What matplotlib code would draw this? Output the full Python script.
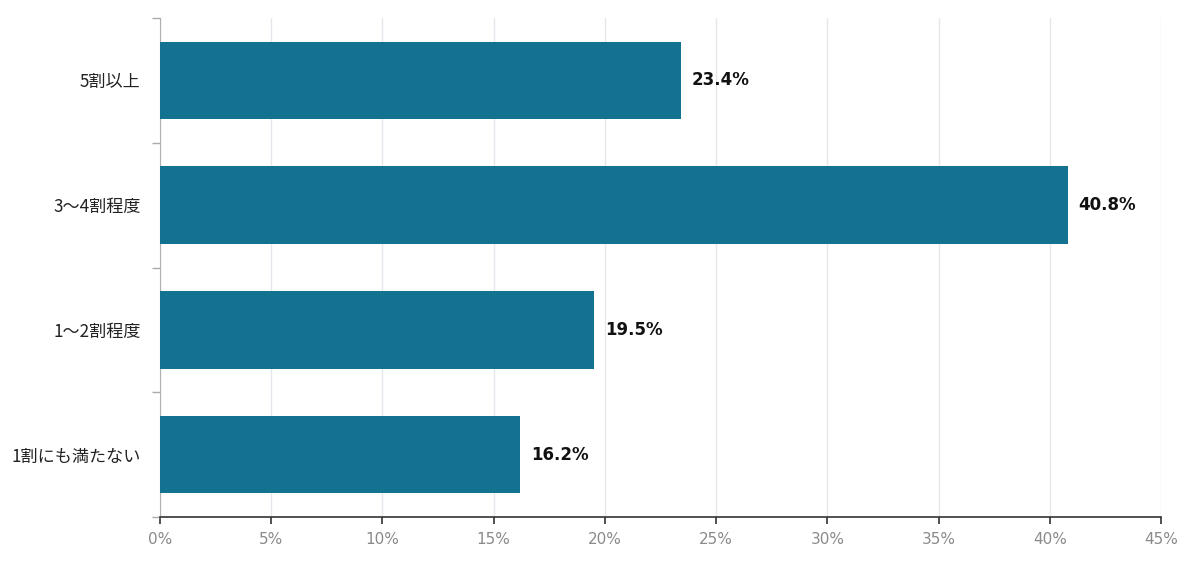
import matplotlib
matplotlib.use("Agg")
import matplotlib.pyplot as plt
import numpy as np
from matplotlib.ticker import FixedLocator

plt.rcParams['font.family'] = ['Noto Sans CJK JP', 'DejaVu Sans']

categories = ["5割以上", "3〜4割程度", "1〜2割程度", "1割にも満たない"]
values = [23.4, 40.8, 19.5, 16.2]
xticks = [0, 5, 10, 15, 20, 25, 30, 35, 40, 45]
xticklabels = [f"{t}%" for t in xticks]

fig = plt.figure(figsize=(12, 5.62), dpi=100)
ax = fig.add_axes([160/1200, 1-517/562, (1161-160)/1200, (517-18)/562])

y = np.arange(len(categories))
ax.barh(y, values, height=0.62, color="#13728f", zorder=3)
ax.set_ylim(len(categories)-0.5, -0.5)
ax.set_xlim(0, 45)

for yi, v in zip(y, values):
    ax.text(v + 0.5, yi, f"{v}%", va="center", ha="left", fontsize=12,
            fontweight="bold", color="#111111", family=['DejaVu Sans'])

ax.set_yticks(y)
ax.set_yticklabels(categories, fontsize=12.3, color="#222222")
ax.tick_params(axis='y', which='major', length=0, pad=14)
ax.yaxis.set_minor_locator(FixedLocator(np.arange(-0.5, len(categories), 1.0)))
ax.tick_params(axis='y', which='minor', length=6, color="#aaaaaa", width=1)

ax.set_xticks(xticks)
ax.set_xticklabels(xticklabels, fontsize=11, color="#8a8a8a", family=['DejaVu Sans'])
ax.tick_params(axis='x', length=5, color="#333333", width=1.2, pad=6)
ax.grid(axis='x', color="#e6e6ee", linewidth=1, zorder=0)

for s in ['top', 'right']:
    ax.spines[s].set_visible(False)
ax.spines['left'].set_color("#b0b0b0")
ax.spines['bottom'].set_color("#333333")
ax.spines['bottom'].set_linewidth(1.2)

fig.savefig("out.png", dpi=100, facecolor="white")
